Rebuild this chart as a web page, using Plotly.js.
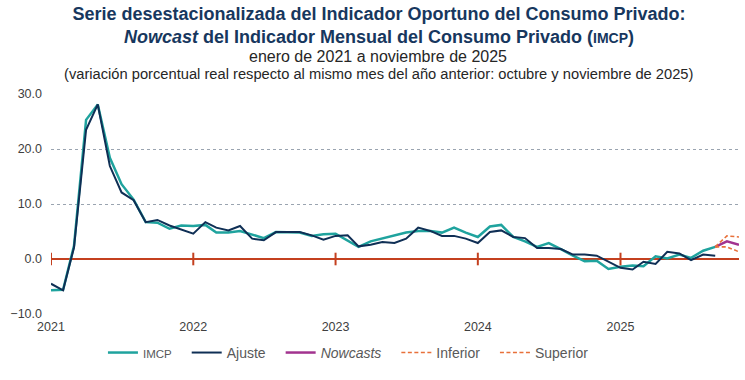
<!DOCTYPE html>
<html>
<head>
<meta charset="utf-8">
<script src="https://cdn.plot.ly/plotly-3.0.1.min.js"></script>
<style>html,body{margin:0;padding:0;background:#fff;}#chart{width:745px;height:380px;}</style>
</head>
<body>
<div id="chart"></div>
<script>
// Monthly periods Jan 2021 .. Nov 2025
const startYear = 2021;
const nMonths = 59;
const months = [];
for (let k = 0; k < nMonths; k++) {
  const y = startYear + Math.floor(k / 12);
  const m = (k % 12) + 1;
  months.push(y + '-' + String(m).padStart(2, '0') + '-01');
}

// IMCP (Jan 2021 .. Sep 2025)
const imcp = [-5.7, -5.6, 2.4, 25.3, 28.1, 18.4, 13.6, 10.8, 6.7, 6.6, 5.5, 6.1,
  6.0, 6.2, 4.8, 4.8, 5.1, 4.5, 3.8, 4.9, 4.9, 4.8, 4.2, 4.5,
  4.6, 3.4, 2.2, 3.2, 3.7, 4.3, 4.8, 5.1, 5.1, 4.8, 5.7, 4.8,
  4.0, 5.9, 6.2, 4.0, 3.2, 2.2, 2.9, 1.8, 0.6, -0.4, -0.3, -1.8,
  -1.4, -1.2, -1.3, 0.5, 0.1, 0.8, 0.2, 1.5, 2.2];

// Ajuste (Jan 2021 .. Sep 2025)
const ajuste = [-4.5, -5.7, 2.1, 23.5, 28.1, 16.9, 12.1, 10.7, 6.7, 7.1, 6.1, 5.4,
  4.6, 6.7, 5.7, 5.2, 6.0, 3.7, 3.4, 4.9, 4.9, 4.9, 4.3, 3.5,
  4.2, 4.3, 2.3, 2.6, 3.1, 2.9, 3.7, 5.7, 5.1, 4.2, 4.2, 3.7,
  2.9, 4.9, 5.2, 4.0, 3.8, 2.0, 2.0, 1.8, 0.8, 0.8, 0.6, -0.5,
  -1.6, -1.9, -0.5, -0.9, 1.3, 1.0, -0.2, 0.8, 0.6];

// Nowcasts and bands (Sep 2025 .. Nov 2025)
const nowStart = 56;
const nowcast = [2.2, 3.2, 2.6];
const inferior = [2.2, 2.2, 1.3];
const superior = [2.2, 4.2, 4.0];

// Year ticks
const yearTicks = ['2021-01-01', '2022-01-01', '2023-01-01', '2024-01-01', '2025-01-01'];
const yearLabels = ['2021', '2022', '2023', '2024', '2025'];
const yearTickY = [0, 0, 0, 0, 0];

const teal = '#1fa39e';
const navy = '#0f2f55';
const magenta = '#a2338f';
const orange = '#e8703a';
const red = '#c4401f';
const FONT = 'Liberation Sans, Arial, sans-serif';
const pad = '<span style="font-size:12px">&nbsp;&nbsp;&nbsp;</span>';

const traces = [
  {x: months.slice(0, imcp.length), y: imcp, type: 'scatter', mode: 'lines',
   name: '<span style="font-size:11.5px">IMCP</span>' + pad, line: {color: teal, width: 2.5}},
  {x: months.slice(0, ajuste.length), y: ajuste, type: 'scatter', mode: 'lines',
   name: 'Ajuste' + pad, line: {color: navy, width: 2}},
  {x: months.slice(nowStart, nowStart + nowcast.length), y: nowcast, type: 'scatter', mode: 'lines',
   name: '<i>Nowcasts</i>' + pad, line: {color: magenta, width: 2.5}},
  {x: months.slice(nowStart, nowStart + inferior.length), y: inferior, type: 'scatter', mode: 'lines',
   name: 'Inferior' + pad, line: {color: orange, width: 1.6, dash: '4px,2.5px'}},
  {x: months.slice(nowStart, nowStart + superior.length), y: superior, type: 'scatter', mode: 'lines',
   name: 'Superior', line: {color: orange, width: 1.6, dash: '4px,2.5px'}},
  {x: yearTicks, y: yearTickY, type: 'scatter', mode: 'markers', showlegend: false, hoverinfo: 'skip',
   marker: {symbol: 'line-ns', size: 9, line: {color: red, width: 2}}}
];

const layout = {
  width: 745, height: 380,
  paper_bgcolor: '#ffffff', plot_bgcolor: '#ffffff',
  margin: {l: 51, r: 6, t: 94, b: 66},
  font: {family: FONT, color: '#404040'},
  title: {
    text: '<b>Serie desestacionalizada del Indicador Oportuno del Consumo Privado:</b><br><b><i>Nowcast</i> del Indicador Mensual del Consumo Privado (<span style="font-size:14px">IMCP</span>)</b>',
    font: {family: FONT, size: 18, color: '#17375e'},
    x: 0.5087, xref: 'container', xanchor: 'center',
    y: 0.948, yref: 'container', yanchor: 'top'
  },
  annotations: [
    {text: 'enero de 2021 a noviembre de 2025', xref: 'paper', yref: 'paper',
     x: 0.476, y: 1.171, xanchor: 'center', yanchor: 'middle', showarrow: false,
     font: {family: FONT, size: 16, color: '#262626'}},
    {text: '(variación porcentual real respecto al mismo mes del año anterior: octubre y noviembre de 2025)', xref: 'paper', yref: 'paper',
     x: 0.476, y: 1.093, xanchor: 'center', yanchor: 'middle', showarrow: false,
     font: {family: FONT, size: 14.7, color: '#262626'}}
  ],
  xaxis: {
    type: 'date', range: ['2021-01-01', '2025-11-01'],
    tickmode: 'array', tickvals: yearTicks, ticktext: yearLabels,
    showgrid: false, zeroline: false, showline: false, ticks: '',
    ticklabelstandoff: 3,
    tickfont: {size: 12.5, color: '#404040'}
  },
  yaxis: {
    range: [-10, 30], dtick: 10, tick0: 0, tickformat: '.1f',
    showgrid: true, gridcolor: '#9aa4b0', griddash: 'dot', gridwidth: 1,
    zeroline: true, zerolinecolor: red, zerolinewidth: 2,
    showline: false, ticks: '', ticklabelstandoff: 8,
    tickfont: {size: 12.5, color: '#404040'}
  },
  showlegend: true,
  legend: {
    orientation: 'h', x: 0.0755, xanchor: 'left', y: -0.177, yanchor: 'middle',
    font: {family: FONT, size: 14, color: '#595959'}, itemwidth: 30, tracegroupgap: 0,
    bgcolor: 'rgba(0,0,0,0)'
  }
};

Plotly.newPlot('chart', traces, layout, {displayModeBar: false, staticPlot: true});
</script>
</body>
</html>
